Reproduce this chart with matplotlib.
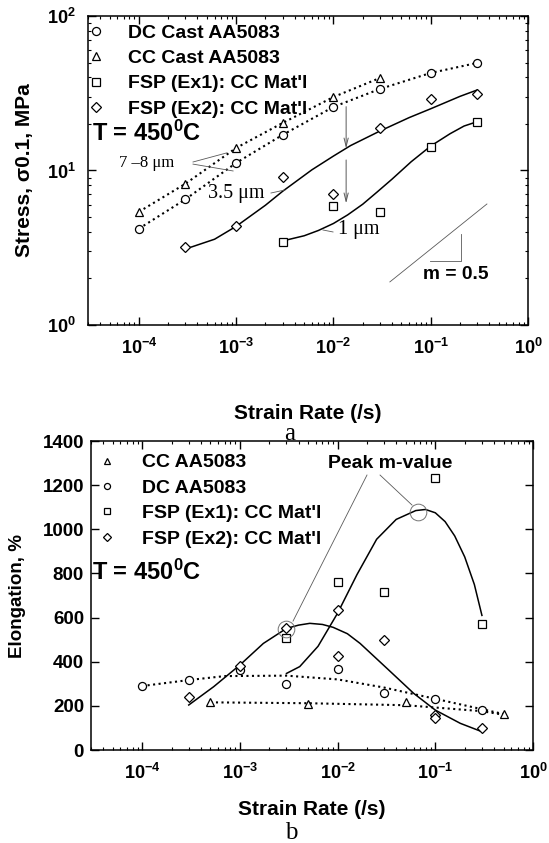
import numpy as np
import matplotlib
matplotlib.use("Agg")
import matplotlib.pyplot as plt

plt.rcParams['font.family'] = ['Liberation Sans', 'DejaVu Sans']
plt.rcParams['font.weight'] = 'bold'
plt.rcParams['axes.labelweight'] = 'bold'
plt.rcParams['mathtext.fontset'] = 'custom'
plt.rcParams['mathtext.rm'] = 'Liberation Sans:bold'
plt.rcParams['mathtext.it'] = 'Liberation Sans:bold'
plt.rcParams['mathtext.bf'] = 'Liberation Sans:bold'
plt.rcParams['mathtext.default'] = 'rm'

#----------------------------------------------------------------------------
#    (a) flow stress vs strain rate
#----------------------------------------------------------------------------
dc_rate = [1e-4, 3e-4, 1e-3, 3e-3, 1e-2, 3e-2, 0.1, 0.3]
dc_stress = [4.2, 6.5, 11.2, 17.0, 25.8, 33.7, 42.8, 49.7]
cc_rate = [1e-4, 3e-4, 1e-3, 3e-3, 1e-2, 3e-2]
cc_stress = [5.4, 8.2, 14.0, 20.3, 29.9, 39.7]
ex1_rate = [3e-3, 1e-2, 3e-2, 0.1, 0.3]
ex1_stress = [3.45, 5.9, 5.4, 14.2, 20.6]
ex2_rate = [3e-4, 1e-3, 3e-3, 1e-2, 3e-2, 0.1, 0.3]
ex2_stress = [3.2, 4.4, 9.1, 7.0, 18.8, 29.0, 31.3]

# fitted curves
ex1_fit_rate = [3e-3, 5e-3, 7e-3, 1e-2, 0.014, 0.02, 0.028, 0.04, 0.063,
                0.1, 0.158, 0.22, 0.3]
ex1_fit_stress = [3.5, 3.78, 4.09, 4.54, 5.16, 6.05, 7.24, 8.79, 11.4,
                  14.4, 17.3, 19.4, 20.7]
ex2_fit_rate = [3e-4, 6e-4, 1e-3, 2e-3, 3e-3, 6e-3, 1e-2, 0.015, 0.03,
                0.06, 0.1, 0.2, 0.3]
ex2_fit_stress = [3.1, 3.59, 4.35, 5.96, 7.33, 10.1, 12.4, 14.5, 18.0,
                  22.0, 25.1, 30.2, 33.2]

#----------------------------------------------------------------------------
#    (b) elongation vs strain rate
#----------------------------------------------------------------------------
cc_b_rate = [5e-4, 5e-3, 0.05, 0.5]
cc_b_elong = [217, 208, 217, 163]
dc_b_rate = [1e-4, 3e-4, 1e-3, 3e-3, 1e-2, 3e-2, 0.1, 0.3]
dc_b_elong = [290, 317, 362, 299, 367, 258, 231, 181]
ex1_b_rate = [3e-3, 1e-2, 3e-2, 0.1, 0.3]
ex1_b_elong = [507, 760, 716, 1232, 571]
ex2_b_rate = [3e-4, 1e-3, 3e-3, 1e-2, 1e-2, 3e-2, 0.1, 0.1, 0.3]
ex2_b_elong = [240, 381, 553, 634, 426, 498, 160, 145, 100]

cc_b_fit_rate = [5e-4, 5e-3, 0.05, 0.3, 0.5]
cc_b_fit_elong = [216, 212, 203, 176, 160]
dc_b_fit_rate = [1e-4, 3e-4, 7e-4, 3e-3, 1e-2, 3e-2, 0.1, 0.3, 0.5]
dc_b_fit_elong = [290, 317, 335, 337, 320, 283, 232, 185, 163]
ex1_b_fit_rate = [3e-3, 4.1e-3, 6.31e-3, 0.01, 0.0158, 0.0251, 0.0398, 0.0631,
                  0.0794, 0.1, 0.126, 0.158, 0.2, 0.251, 0.3]
ex1_b_fit_elong = [347, 378, 470, 620, 795, 955, 1045, 1085,
                   1090, 1075, 1035, 970, 875, 750, 610]
ex2_b_fit_rate = [3e-4, 5.4e-4, 1e-3, 1.74e-3, 3e-3, 4e-3, 5.2e-3, 7e-3, 9e-3,
                  0.0126, 0.017, 0.032, 0.06, 0.1, 0.18, 0.3]
ex2_b_fit_elong = [204, 287, 385, 483, 551, 566, 574, 569, 556,
                   527, 483, 370, 257, 181, 121, 83]

peak_rate = [3e-3, 0.067]
peak_elong = [547, 1080]

x_ticks = [1e-4, 1e-3, 1e-2, 1e-1, 1]
x_labels = ['$10^{-4}$', '$10^{-3}$', '$10^{-2}$', '$10^{-1}$', '$10^{0}$']
y_ticks_a = [1, 10, 100]
y_labels_a = ['$10^{0}$', '$10^{1}$', '$10^{2}$']
y_ticks_b = [0, 200, 400, 600, 800, 1000, 1200, 1400]

mk = dict(ls='none', mfc='white', mec='black', mew=0.9)
grey = '0.35'

fig = plt.figure(figsize=(5.49, 8.43), dpi=100)
ax1 = fig.add_axes([0.1603, 0.6145, 0.8015, 0.3665])
ax2 = fig.add_axes([0.1658, 0.1103, 0.8051, 0.3665])

# ---------------- panel a ----------------
ax1.plot(dc_rate, dc_stress, ls=':', color='black', lw=1.5)
ax1.plot(cc_rate, cc_stress, ls=':', color='black', lw=1.5)
ax1.plot(ex1_fit_rate, ex1_fit_stress, color='black', lw=1.1)
ax1.plot(ex2_fit_rate, ex2_fit_stress, color='black', lw=1.1)
h1 = ax1.plot(dc_rate, dc_stress, marker='o', ms=5.8, label='DC Cast AA5083', **mk)[0]
h2 = ax1.plot(cc_rate, cc_stress, marker='^', ms=5.8, label='CC Cast AA5083', **mk)[0]
h3 = ax1.plot(ex1_rate, ex1_stress, marker='s', ms=5.2, label="FSP (Ex1): CC Mat'l", **mk)[0]
h4 = ax1.plot(ex2_rate, ex2_stress, marker='D', ms=5.5, label="FSP (Ex2): CC Mat'l", **mk)[0]

ax1.set_xscale('log')
ax1.set_yscale('log')
ax1.set_xlim(3e-5, 1)
ax1.set_ylim(1, 100)
ax1.set_xticks(x_ticks)
ax1.set_xticklabels(x_labels)
ax1.set_yticks(y_ticks_a)
ax1.set_yticklabels(y_labels_a)

ax1.legend(handles=[h1, h2, h3, h4], loc='upper left', bbox_to_anchor=(-0.004, 0.987),
           frameon=False, fontsize=14, handlelength=0.6, handletextpad=1.35,
           labelspacing=0.4, borderaxespad=0.1, borderpad=0.1)

ax1.text(3.3e-5, 17.5, 'T = 450$^{0}$C', fontsize=17, ha='left', va='center')

ax1.text(6.2e-5, 11.2, '7 \u20138 \u03bcm', family='Liberation Serif', fontweight='normal',
         fontsize=12, ha='left', va='center')
ax1.plot([3.6e-4, 8.0e-4], [11.35, 13.0], color=grey, lw=0.6)
ax1.plot([3.6e-4, 9.3e-4], [11.0, 9.93], color=grey, lw=0.6)
ax1.text(5.1e-4, 7.15, '3.5 \u03bcm', family='Liberation Serif', fontweight='normal',
         fontsize=14.5, ha='left', va='center')
ax1.plot([2.28e-3, 3.17e-3], [7.15, 7.48], color=grey, lw=0.6)
ax1.text(0.0111, 4.12, '1 \u03bcm', family='Liberation Serif', fontweight='normal',
         fontsize=14.5, ha='left', va='center')
ax1.plot([7.8e-3, 9.9e-3], [4.12, 4.0], color=grey, lw=0.6)

arrow_kw = dict(arrowstyle='->, head_length=0.6, head_width=0.15', color=grey, lw=0.7,
                shrinkA=0, shrinkB=0)
ax1.annotate('', xy=(0.0135, 13.9), xytext=(0.0135, 25.9), arrowprops=arrow_kw)
ax1.annotate('', xy=(0.0135, 6.13), xytext=(0.0135, 11.7), arrowprops=arrow_kw)

# m = 0.5 slope marker
ax1.plot([0.038, 0.378], [1.9, 6.07], color=grey, lw=0.6)
ax1.plot([0.098, 0.205, 0.205], [2.6, 2.6, 3.88], color=grey, lw=0.6)
ax1.text(0.083, 2.11, 'm = 0.5', fontsize=13.8, ha='left', va='center')

ax1.set_ylabel('Stress, \u03c30.1, MPa', fontsize=15, va='center')
ax1.set_xlabel('Strain Rate (/s)', fontsize=15, va='center')
ax1.yaxis.set_label_coords(-0.145, 0.5)
ax1.xaxis.set_label_coords(0.5, -0.288)

# ---------------- panel b ----------------
ax2.plot(dc_b_fit_rate, dc_b_fit_elong, ls=':', color='black', lw=1.5)
ax2.plot(cc_b_fit_rate, cc_b_fit_elong, ls=':', color='black', lw=1.5)
ax2.plot(ex1_b_fit_rate, ex1_b_fit_elong, color='black', lw=1.1)
ax2.plot(ex2_b_fit_rate, ex2_b_fit_elong, color='black', lw=1.1)
g1 = ax2.plot(cc_b_rate, cc_b_elong, marker='^', ms=5.8, label='CC AA5083', **mk)[0]
g2 = ax2.plot(dc_b_rate, dc_b_elong, marker='o', ms=5.8, label='DC AA5083', **mk)[0]
g3 = ax2.plot(ex1_b_rate, ex1_b_elong, marker='s', ms=5.2, label="FSP (Ex1): CC Mat'l", **mk)[0]
g4 = ax2.plot(ex2_b_rate, ex2_b_elong, marker='D', ms=5.5, label="FSP (Ex2): CC Mat'l", **mk)[0]

ax2.plot(peak_rate, peak_elong, ls='none', marker='o', ms=12, mfc='none', mec='0.45', mew=0.7)
ax2.plot([0.02, 3.5e-3], [1246, 584], color=grey, lw=0.6)
ax2.plot([0.0272, 0.0578], [1246, 1110], color=grey, lw=0.6)
ax2.text(0.0344, 1300, 'Peak m-value', fontsize=14, ha='center', va='center')

ax2.set_xscale('log')
ax2.set_xlim(3e-5, 1)
ax2.set_ylim(0, 1400)
ax2.set_xticks(x_ticks)
ax2.set_xticklabels(x_labels)
ax2.set_yticks(y_ticks_b)

ax2.legend(handles=[g1, g2, g3, g4], loc='upper left', bbox_to_anchor=(0.0054, 0.984),
           frameon=False, fontsize=14, handlelength=0.6, handletextpad=1.5,
           labelspacing=0.4, borderaxespad=0.2, borderpad=0.2, markerscale=0.75)

ax2.text(3.1e-5, 806, 'T = 450$^{0}$C', fontsize=17, ha='left', va='center')

ax2.set_ylabel('Elongation, %', fontsize=13.5, va='center')
ax2.set_xlabel('Strain Rate (/s)', fontsize=15, va='center')
ax2.yaxis.set_label_coords(-0.167, 0.5)
ax2.xaxis.set_label_coords(0.5, -0.191)

for ax in (ax1, ax2):
    ax.tick_params(which='both', direction='in', top=True, right=True, labelsize=13)
    ax.tick_params(which='major', length=5.5, width=1.0, pad=9)
    ax.tick_params(which='minor', length=2.5, width=0.8)
    for s in ax.spines.values():
        s.set_linewidth(1.1)
ax2.tick_params(axis='y', which='minor', left=False, right=False)
ax2.tick_params(axis='y', pad=5, labelsize=13.5)

fig.text(290 / 549, 1 - 434 / 843, 'a', family='Liberation Serif', fontweight='normal',
         fontsize=18, ha='center', va='center')
fig.text(291 / 549, 1 - 839 / 843, 'b', family='Liberation Serif', fontweight='normal',
         fontsize=18, ha='center', va='baseline')

plt.savefig("out.png", dpi=100)
